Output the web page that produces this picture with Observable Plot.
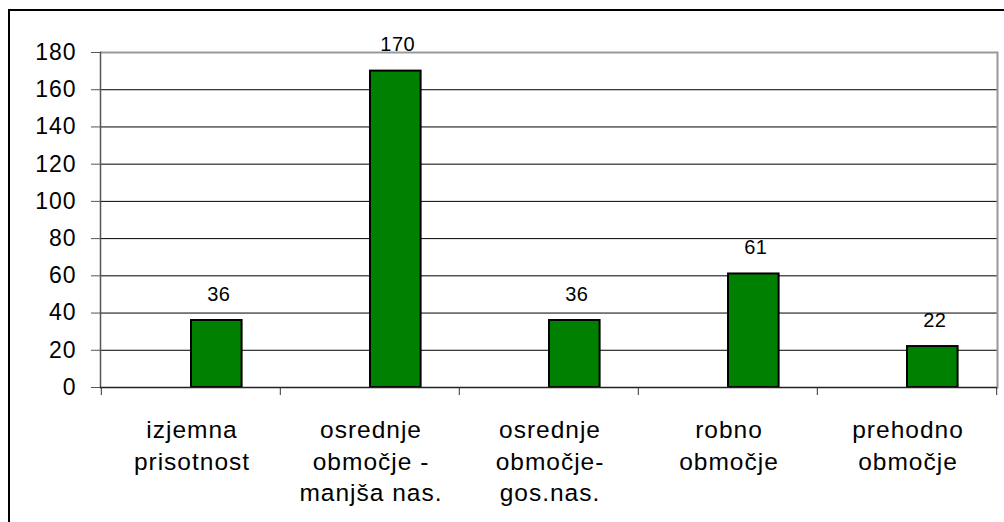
<!DOCTYPE html>
<html><head><meta charset="utf-8">
<script src="https://cdn.jsdelivr.net/npm/d3@7"></script>
<script src="https://cdn.jsdelivr.net/npm/@observablehq/plot@0.6"></script>
<style>
html,body{margin:0;padding:0;background:#fff;overflow:hidden;width:1004px;height:522px;}
#wrap{position:relative;width:1004px;height:522px;}
#border{position:absolute;left:8px;top:9px;width:1100px;height:600px;border-left:2px solid #000;border-top:2px solid #000;pointer-events:none;box-sizing:border-box;}
svg{display:block;}
g[aria-label="x-axis tick label"] text{letter-spacing:1px;}
g[aria-label="y-axis tick label"] text{letter-spacing:1px;}
g[aria-label="text"] text{letter-spacing:0.5px;}
</style></head><body><div id="wrap"><div id="border"></div></div>
<script>
const categories = ["izjemna\nprisotnost", "osrednje\nobmočje -\nmanjša nas.", "osrednje\nobmočje-\ngos.nas.", "robno\nobmočje", "prehodno\nobmočje"];
const values = [36, 170, 36, 61, 22];
const yTicks = [0, 20, 40, 60, 80, 100, 120, 140, 160, 180];

const data = categories.map((c, i) => ({cat: c, value: values[i]}));

const W = 1004, H = 522, ML = 100, MR = 7, MT = 52, MB = 135;
const bw = (W - ML - MR) / categories.length;
const barW = 51;
const barOff = 90;

const chart = Plot.plot({
  width: W, height: H,
  marginLeft: ML, marginRight: MR, marginTop: MT, marginBottom: MB,
  style: {fontFamily: "'Liberation Sans', Arial, sans-serif", background: "#fff"},
  x: {type: "band", domain: categories, padding: 0, axis: null},
  y: {domain: [0, 180], axis: null},
  marks: [
    Plot.gridY(yTicks.filter(t => t > 0 && t < 180), {stroke: "#000", strokeOpacity: 1, strokeWidth: 1}),
    Plot.ruleY([180], {stroke: "#999", strokeWidth: 2}),
    Plot.frame({anchor: "right", stroke: "#999", strokeWidth: 2}),
    Plot.frame({anchor: "left", stroke: "#555", strokeWidth: 1.5}),
    Plot.axisY({ticks: yTicks, tickSize: 9, tickPadding: 15, fontSize: 23, stroke: "#555", label: null,
      tickFormat: d => d}),
    Plot.barY(data, {x: "cat", y: "value", fill: "#008000", stroke: "#000", strokeWidth: 2,
      insetLeft: barOff, insetRight: bw - barOff - barW}),
    Plot.ruleY([0], {stroke: "#222", strokeWidth: 1.5}),
    Plot.axisX({tickSize: 8, dx: -bw / 2, tickFormat: () => "", stroke: "#333", anchor: "bottom", label: null}),
    Plot.axisX({ticks: [categories[categories.length - 1]], tickSize: 8, dx: bw / 2, tickFormat: () => "", stroke: "#333", anchor: "bottom", label: null}),
    Plot.axisX({tickSize: 0, tickPadding: 28, fontSize: 24.5, lineHeight: 1.29, anchor: "bottom", label: null,
      tickFormat: d => d, dx: 1}),
    Plot.text(data, {x: "cat", y: "value", text: d => String(d.value), dx: barOff + barW / 2 - bw / 2 + 2,
      dy: -20, lineAnchor: "bottom", fontSize: 20, fill: "#000"})
  ]
});
document.getElementById("wrap").insertBefore(chart, document.getElementById("border"));
</script></body></html>
